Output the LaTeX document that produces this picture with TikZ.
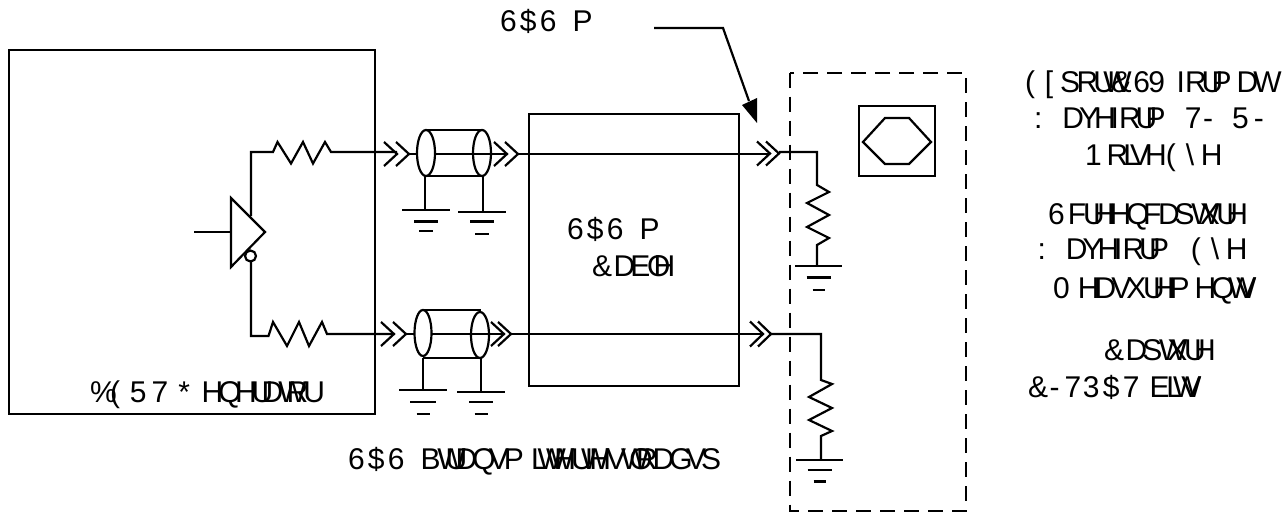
\documentclass[tikz,border=0pt]{standalone}
\usepackage{fontspec}
\setmainfont{Liberation Sans}
\usetikzlibrary{shapes.geometric}
\makeatletter
\def\GT@end{\GT@end}
\def\Ga{\relax}
\def\Gb{\relax}
\def\Gc{\relax}
\def\Gk{\relax}
\def\Gj{\relax\relax}
\def\Gs{6}
\def\bs{\textbackslash}
\def\GW#1#2{\expandafter\def\csname gw@\string#1\endcsname{#2}}
\def\GT#1{\GT@#1\GT@end}
\def\GT@#1{\ifx#1\GT@end\else\hbox to \csname gw@\string#1\endcsname em{#1\hss}\expandafter\GT@\fi}
\GW{\Ga}{.278}\GW{\Gb}{.556}\GW{\Gc}{.47}\GW{\Gk}{.14}\GW{\Gj}{.07}\GW{\Gs}{.5}
\GW{\%}{.667}\GW{(}{.667}\GW{5}{.722}\GW{7}{.611}\GW{*}{.778}\GW{H}{.556}\GW{Q}{.556}
\GW{U}{.333}\GW{D}{.556}\GW{W}{.278}\GW{R}{.556}\GW{6}{.667}\GW{\$}{.667}\GW{P}{.833}
\GW{\&}{.722}\GW{E}{.556}\GW{O}{.222}\GW{[}{.5}\GW{S}{.556}\GW{V}{.5}\GW{9}{.667}\GW{I}{.278}
\GW{:}{.944}\GW{Y}{.5}\GW{-}{.5}\GW{1}{.722}\GW{L}{.222}\GW{\bs}{.5}\GW{F}{.5}\GW{0}{.833}
\GW{X}{.556}\GW{G}{.556}\GW{B}{.556}\GW{3}{.667}
\makeatother
\tikzset{
  wire/.style={line width=2.2pt,line join=miter},
  lbl/.style={anchor=base west,inner sep=0pt,outer sep=0pt,font=\fontsize{30}{36}\selectfont,text=black},
  boxn/.style={draw,line width=2.4pt,inner sep=0pt,anchor=center},
  coaxend/.style={draw,line width=2.2pt,shape=ellipse,inner sep=0pt,minimum width=18pt,minimum height=46pt},
  chev/.style={line width=2.2pt,line join=miter}
}
\newcommand\dchev[4]{% x1 tip, x2 tip, y, half-height
  \draw[chev] (#1-13,#3-#4) -- (#1,#3) -- (#1-13,#3+#4);
  \draw[chev] (#2-13,#3-#4) -- (#2,#3) -- (#2-13,#3+#4);}
\newcommand\gnd[7]{% x stem, y bar, half1, y2, half2, y3, half3
  \draw[wire] (#1-#3,#2) -- (#1+#3,#2);
  \draw[wire] (#1-#5,#4) -- (#1+#5,#4);
  \draw[wire] (#1-#7,#6) -- (#1+#7,#6);}
\begin{document}
\begin{tikzpicture}[x=1pt,y=-1pt]
\useasboundingbox (0,0) rectangle (1287,513);
% boxes
\node[boxn,minimum width=366pt,minimum height=364pt] (bert) at (192,232) {};
\node[boxn,minimum width=210pt,minimum height=272pt] (cable) at (634,250) {};
\node[boxn,minimum width=76pt,minimum height=70pt] (scope) at (897,141) {};
\draw[line width=2.2pt,dash pattern=on 15pt off 9pt] (790,72.7) rectangle (966,510.7);
\draw[wire] (863,142) -- (885,118) -- (909,118) -- (931,142) -- (909,164) -- (885,164) -- cycle;
% driver
\coordinate (drvin) at (194,231.6);
\coordinate (tl) at (231,198); \coordinate (tr) at (265,232); \coordinate (bl) at (231,267);
\draw[wire] (drvin) -- (231,231.6);
\draw[wire] (tl) -- (tr) -- (bl) -- cycle;
\node[draw,line width=2.2pt,circle,inner sep=0pt,minimum size=11pt] (bub) at (250.5,256) {};
% upper channel
\coordinate (uo) at (251,216);
\draw[wire] (uo) -- (251,152) -- (273,152) -- (277.5,142) -- (291,163.5) -- (303,142) -- (313,163.5) -- (325,142) -- (331,152) -- (397,152);
\dchev{397}{409}{154}{12}
\draw[wire] (409,154) -- (417,154);
\draw[wire] (426,130) -- (483,130); \draw[wire] (426,175.7) -- (483,175.7);
\draw[wire] (435,154) -- (506,154);
\node[coaxend,fill=white] (c1) at (426,153) {};
\node[coaxend] (c2) at (482,153) {};
\dchev{507}{518}{154}{12}
\draw[wire] (518,154) -- (770,154);
\dchev{770}{779}{153.5}{12}
\draw[wire] (779,152) -- (817,152) -- (817,185) -- (829,192) -- (807,203) -- (829,215) -- (807,227) -- (829,238) -- (817,245) -- (817,266);
\draw[wire] (425,176) -- (425,210);
\draw[wire] (483,176) -- (483,212);
\gnd{426}{210}{24}{221.5}{12}{231}{7}
\gnd{482}{212}{24}{221.5}{12}{234}{7}
\gnd{818.5}{266}{23.5}{277.5}{12}{290}{6}
% lower channel
\draw[wire] (251,262) -- (251,336) -- (268.5,336) -- (273,322) -- (287,346) -- (299,322) -- (309,346) -- (322,322) -- (327,334) -- (394,334);
\dchev{394}{406}{334}{12}
\draw[wire] (406,334) -- (415,334);
\draw[wire] (423,310) -- (481,310); \draw[wire] (423,358) -- (481,358);
\draw[wire] (431,334) -- (504,334);
\node[coaxend,minimum width=17pt,fill=white] (c3) at (423,333) {};
\node[coaxend] (c4) at (480,335) {};
\dchev{504}{511}{334}{12}
\draw[wire] (511,334) -- (763,334);
\dchev{763}{771}{334}{12.5}
\draw[wire] (771,334) -- (821,334) -- (821,380) -- (832,384) -- (809,397) -- (832,408) -- (809,420) -- (832,431) -- (821,436) -- (821,460);
\draw[wire] (423,358) -- (423,390);
\draw[wire] (481,358) -- (481,392);
\gnd{423}{390}{24}{402}{13}{414}{6.5}
\gnd{481}{392}{24}{402}{12}{414}{6.5}
\gnd{819.5}{460}{23.5}{470}{12}{481.5}{6}
% pointer
\coordinate (p0) at (654,28); \coordinate (p1) at (723,28); \coordinate (p2) at (749,101);
\draw[wire] (p0) -- (p1) -- (p2);
\fill (742,105) -- (757,98) -- (757,123) -- cycle;
% labels
\node[lbl] (t1) at (500,32) {\GT{6\$6\Ga\Gk P}};
\node[lbl] (t2) at (567,240) {\GT{6\$6\Ga\Gk P}};
\node[lbl] (t3) at (592,276) {\GT{\&DEOH}};
\node[lbl] (t4) at (90,402) {\GT{\%(57\Ga*HQHUDWRU}};
\node[lbl] (t5) at (348,469) {\GT{6\$6\Ga\Gk BWUDQVP\Gj LWWHUWHVWORDGVS}};
\node[lbl] (t6) at (1025,93) {\GT{([SRUW\&\Gs 9\Ga IRUPDW}};
\node[lbl] (t7) at (1034,129) {\GT{:DYHIRUP\Gc 7-\Gc 5-}};
\node[lbl] (t8) at (1085,166) {\GT{1RLVH\Gk(\bs H}};
\node[lbl] (t9) at (1048,224) {\GT{6FUHHQFDSWXUH}};
\node[lbl] (t10) at (1037.5,259) {\GT{:DYHIRUP\Gb(\bs H}};
\node[lbl] (t11) at (1053,298) {\GT{0HDVXUHPHQWV}};
\node[lbl] (t12) at (1104,360) {\GT{\&DSWXUH}};
\node[lbl] (t13) at (1028,397) {\GT{\&-73\$7\Ga ELWV}};
\end{tikzpicture}
\end{document}
